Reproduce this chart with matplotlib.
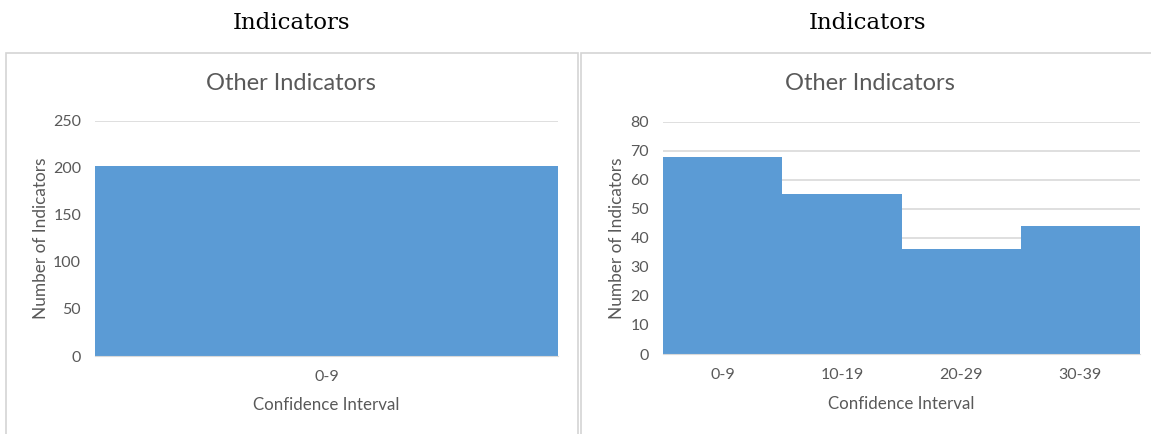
import matplotlib

matplotlib.use("Agg")
import matplotlib.pyplot as plt
from matplotlib.patches import Rectangle

W, H = 1151, 434

# data
left_bins = ["0-9"]
left_counts = [202]
right_bins = ["0-9", "10-19", "20-29", "30-39"]
right_counts = [68, 55, 36, 44]

BAR = "#5B9BD5"
TXT = "#595959"
GRID = "#D9D9D9"
BORDER = "#D4D4D4"
FONT = "Lato"


def px(x, y):
    # pixel (from top-left) -> figure fraction
    return x / W, 1 - y / H


def box(fig, x0, y0, x1, y1):
    fig.patches.append(
        Rectangle((x0 / W, 1 - y1 / H), (x1 - x0) / W, (y1 - y0) / H,
                  transform=fig.transFigure, fill=False, edgecolor=BORDER,
                  linewidth=1.2)
    )


def panel(fig, rect, bins, counts, ymax, step, cx, title_y, ylab_x, xlab_y):
    x0, y0, x1, y1 = rect
    ax = fig.add_axes([x0 / W, 1 - y1 / H, (x1 - x0) / W, (y1 - y0) / H])
    ax.bar(range(len(bins)), counts, width=1.0, color=BAR, zorder=2)
    ax.set_xlim(-0.5, len(bins) - 0.5)
    ax.set_ylim(0, ymax)
    ax.set_yticks(range(0, ymax + 1, step))
    ax.set_xticks(range(len(bins)))
    ax.set_xticklabels(bins)
    ax.yaxis.grid(True, color=GRID, linewidth=1.2, zorder=0)
    ax.set_axisbelow(True)
    for s in ["top", "right", "left"]:
        ax.spines[s].set_visible(False)
    ax.spines["bottom"].set_color(GRID)
    ax.tick_params(length=0, labelsize=11.5, colors=TXT, pad=10)
    ax.tick_params(axis="x", pad=10)
    for lab in ax.get_xticklabels() + ax.get_yticklabels():
        lab.set_family(FONT)
    fig.text(*px(cx, title_y), "Other Indicators", ha="center", va="center",
             fontsize=17, color=TXT, family=FONT)
    fig.text(*px(ylab_x, (y0 + y1) / 2), "Number of Indicators", ha="center",
             va="center", rotation=90, fontsize=12.4, color=TXT, family=FONT)
    fig.text(*px((x0 + x1) / 2, xlab_y), "Confidence Interval", ha="center",
             va="center", fontsize=12.2, color=TXT, family=FONT)
    return ax


fig = plt.figure(figsize=(W / 100, H / 100), dpi=100)

fig.text(*px(291, 23), "Indicators", ha="center", va="center",
         fontsize=16.5, family="DejaVu Serif", color="black")
fig.text(*px(868, 23), "Indicators", ha="center", va="center",
         fontsize=16.5, family="DejaVu Serif", color="black")

box(fig, 5.5, 53, 578, 440)
box(fig, 581, 53, 1156, 440)

panel(fig, (95, 120.7, 558, 356), left_bins, left_counts, 250, 50,
      cx=291, title_y=83, ylab_x=41.5, xlab_y=405)
panel(fig, (663, 121.7, 1140, 354), right_bins, right_counts, 80, 10,
      cx=870, title_y=83, ylab_x=617.5, xlab_y=404)

fig.savefig("out.png", dpi=100)
